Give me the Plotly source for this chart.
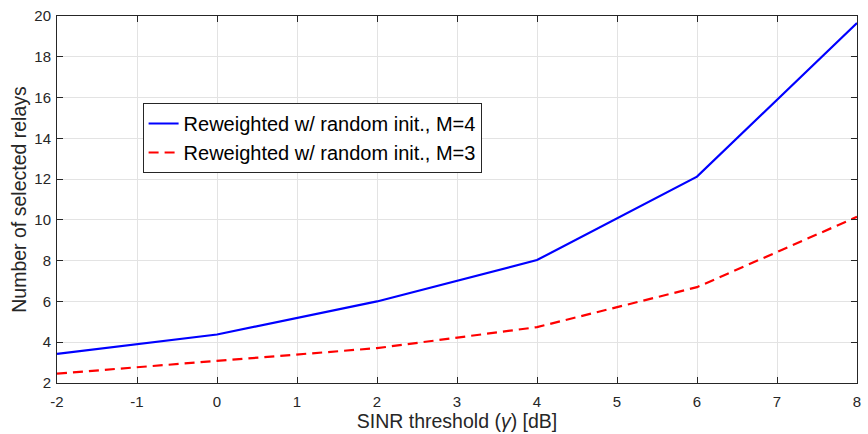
import plotly.graph_objects as go

# SINR threshold values (dB) and average number of selected relays
sinr_db = [-2, 0, 2, 4, 6, 8]
relays_m4 = [3.43, 4.38, 6.0, 8.03, 12.12, 19.66]
relays_m3 = [2.46, 3.1, 3.71, 4.74, 6.7, 10.15]

x_ticks = list(range(-2, 9))
x_tick_text = [str(v) for v in x_ticks]  # plain hyphen for negatives
y_ticks = list(range(2, 21, 2))

font_family = "Liberation Sans, Arial, Helvetica, sans-serif"
axis_color = "#262626"

fig = go.Figure()
fig.add_trace(go.Scatter(
    x=sinr_db, y=relays_m4, mode="lines",
    name="Reweighted w/ random init., M=4",
    line=dict(color="#0000ff", width=2.2),
))
fig.add_trace(go.Scatter(
    x=sinr_db, y=relays_m3, mode="lines",
    name="Reweighted w/ random init., M=3",
    line=dict(color="#ff0000", width=2.2, dash="10px,6px"),
))

axis_common = dict(
    showgrid=True, gridcolor="#e3e3e3", gridwidth=1,
    showline=True, linecolor=axis_color, linewidth=1, mirror="allticks",
    ticks="inside", ticklen=6, tickcolor=axis_color,
    tickfont=dict(family=font_family, size=15, color=axis_color),
    ticklabeloverflow="allow",
    zeroline=False,
)

fig.update_xaxes(
    range=[-2, 8], tickvals=x_ticks, ticktext=x_tick_text,
    ticklabelstandoff=5,
    title=dict(text="SINR threshold (<i>γ</i>) [dB]",
               font=dict(family=font_family, size=19.5, color=axis_color),
               standoff=0),
    **axis_common,
)
fig.update_yaxes(
    range=[2, 20], tickvals=y_ticks,
    ticklabelstandoff=2,
    title=dict(text="Number of selected relays",
               font=dict(family=font_family, size=19.5, color=axis_color),
               standoff=2),
    **axis_common,
)

fig.update_layout(
    width=868, height=434,
    margin=dict(l=57, r=7, t=8, b=51),
    paper_bgcolor="white", plot_bgcolor="white",
    showlegend=True,
    legend=dict(
        x=0.107, y=0.763, xanchor="left", yanchor="top",
        bgcolor="white", bordercolor=axis_color, borderwidth=1,
        font=dict(family=font_family, size=20, color="black"),
        tracegroupgap=0, itemwidth=30,
    ),
)

fig.write_html("out.html")
